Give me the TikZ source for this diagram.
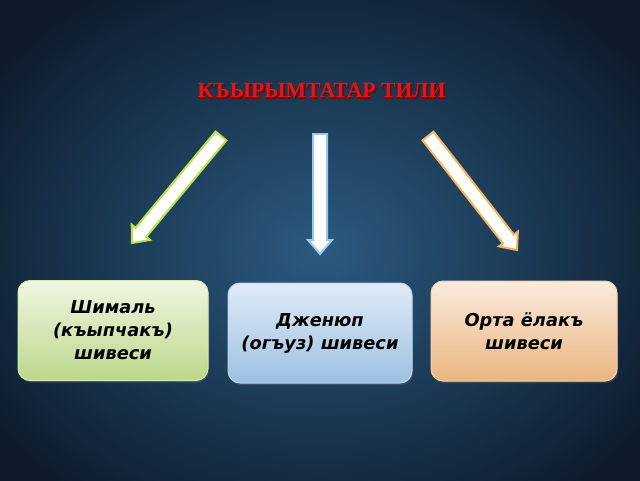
\documentclass[tikz,border=0pt]{standalone}
\usepackage{fontspec}
\setmainfont{Liberation Serif}
\newfontfamily\boxfont{DejaVu Sans}
\usetikzlibrary{calc,shadows}
\definecolor{bgin}{HTML}{2B5A80}
\definecolor{bgout}{HTML}{0D1B2C}
\definecolor{titlered}{HTML}{EE1111}
\definecolor{grtop}{HTML}{F0F6E2}
\definecolor{grbot}{HTML}{BBD88A}
\definecolor{grline}{HTML}{D6E9B0}
\definecolor{bltop}{HTML}{E0EBF6}
\definecolor{blbot}{HTML}{9CC0E2}
\definecolor{blline}{HTML}{BDD5EE}
\definecolor{ortop}{HTML}{FBEBDD}
\definecolor{orbot}{HTML}{E9B57F}
\definecolor{orline}{HTML}{F3D2B0}
\definecolor{argreen}{HTML}{B8E04A}
\definecolor{arblue}{HTML}{9CC8EC}
\definecolor{arorange}{HTML}{F2B460}
\tikzset{
  langbox/.style={rounded corners=12pt, line width=1pt, minimum height=100pt,
    align=center, font=\boxfont\bfseries\itshape\fontsize{17.8}{23}\selectfont,
    text=black, drop shadow={shadow xshift=1pt, shadow yshift=-2pt, opacity=0.3}},
  blockarrow/.style={fill=white, line width=2pt, line join=miter},
}
\newcommand{\blockarr}[3]{%
  \coordinate (#1h) at ($(#2)!14pt!(#1)$);
  \draw[blockarrow, draw=#3]
    ($(#1)!7pt!90:(#2)$) -- ($(#1h)!7pt!90:(#2)$) -- ($(#1h)!12pt!90:(#2)$) --
    (#2) -- ($(#1h)!12pt!-90:(#2)$) -- ($(#1h)!7pt!-90:(#2)$) --
    ($(#1)!7pt!-90:(#2)$) -- cycle;}
\begin{document}
\begin{tikzpicture}[x=1pt,y=-1pt]
\useasboundingbox (0,0) rectangle (640,480);
\shade[inner color=bgin, outer color=bgout] (-80,-60) rectangle (720,560);
\node[text=red!45!black, font=\bfseries\fontsize{21.7}{24}\selectfont] at (323,92) {КЪЫРЫМТАТАР ТИЛИ};
\node (title) [text=titlered, font=\bfseries\fontsize{21.7}{24}\selectfont] at (321.5,90.5) {КЪЫРЫМТАТАР ТИЛИ};
% arrows
\coordinate (aLs) at (221,136);
\coordinate (aLe) at (132,243);
\coordinate (aMs) at (320,134);
\coordinate (aMe) at (320,254);
\coordinate (aRs) at (428,136);
\coordinate (aRe) at (517,250);
\blockarr{aLs}{aLe}{argreen}
\blockarr{aMs}{aMe}{arblue}
\blockarr{aRs}{aRe}{arorange}
% boxes
\node (north) [langbox, minimum width=190pt, top color=grtop, bottom color=grbot, draw=grline]
  at (113,330.5) {Шималь\\(къыпчакъ)\\шивеси};
\node (south) [langbox, minimum width=184pt, top color=bltop, bottom color=blbot, draw=blline]
  at (320,333) {Дженюп\\(огъуз) шивеси};
\node (middle) [langbox, minimum width=186pt, top color=ortop, bottom color=orbot, draw=orline]
  at (524,331) {Орта ёлакъ\\шивеси};
\end{tikzpicture}
\end{document}
